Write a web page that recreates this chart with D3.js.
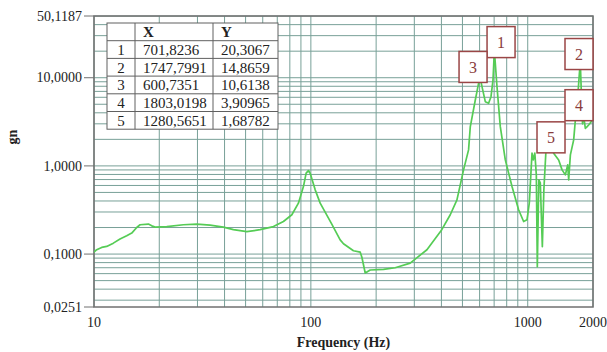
<!DOCTYPE html>
<html>
<head>
<meta charset="utf-8">
<script src="https://cdn.jsdelivr.net/npm/d3@7"></script>
<style>
  body { margin: 0; background: #fff; }
  svg { display: block; }
  text { font-family: "Liberation Serif", "Times New Roman", serif; }
</style>
</head>
<body>
<div id="chart"></div>
<script>
// response curve (Hz, gn)
var freq = [10, 10.29, 10.85, 11.44, 12.28, 13.18, 14.15, 14.93, 15.74, 16.31,
  17.81, 18.47, 19.12, 21.65, 25.83, 29.78, 34.3, 39.52, 43.94, 50.67,
  58.34, 67.21, 74.74, 81.72, 87.63, 92.42, 95.12, 97.48, 99.26, 104.7,
  110.4, 124.7, 136.5, 141.4, 157.2, 168.9, 171.9, 178.1, 187.8, 216.3,
  244.9, 287.2, 343, 401.5, 439.4, 471.7, 506, 533.6, 543.3, 573.2,
  593.5, 600.7, 615.4, 637.3, 660.1, 677.1, 691.7, 701.8, 721.7, 747.5,
  788.2, 846.4, 907.8, 957.4, 992.7, 1017, 1046.6, 1061, 1078.4, 1095.7,
  1107.3, 1125, 1143, 1168, 1187, 1212, 1280.6, 1317, 1389, 1440,
  1491.5, 1528.7, 1545, 1573, 1629, 1658.6, 1700, 1730, 1747.8, 1770,
  1790, 1803, 1825, 1844, 1870, 1910, 1950, 1980, 2000];
var accel = [0.105, 0.112, 0.119, 0.122, 0.133, 0.148, 0.161, 0.173, 0.200, 0.215,
  0.219, 0.209, 0.202, 0.205, 0.215, 0.219, 0.213, 0.202, 0.189, 0.180,
  0.189, 0.205, 0.234, 0.279, 0.378, 0.583, 0.827, 0.885, 0.827, 0.535,
  0.378, 0.220, 0.145, 0.131, 0.109, 0.105, 0.092, 0.061, 0.066, 0.067,
  0.070, 0.079, 0.112, 0.189, 0.279, 0.412, 0.901, 1.518, 2.765, 5.59,
  8.64, 10.61, 7.91, 5.35, 5.13, 6.09, 9.42, 20.31, 7.91, 2.787,
  1.169, 0.583, 0.318, 0.234, 0.245, 0.381, 1.393, 1.169, 1.40, 0.791,
  0.072, 0.694, 0.642, 0.121, 0.535, 1.40, 1.688, 1.393, 1.169, 0.901,
  0.791, 1.026, 0.694, 1.332, 1.97, 3.32, 6.0, 11.0, 14.87, 6.0,
  3.0, 3.91, 3.2, 2.67, 2.75, 2.91, 3.1, 3.32, 3.45];

// peak table
var peakId = [1, 2, 3, 4, 5];
var peakX = [701.8236, 1747.7991, 600.7351, 1803.0198, 1280.5651];
var peakY = [20.3067, 14.8659, 10.6138, 3.90965, 1.68782];

var xTicks = [10, 100, 1000, 2000];
var yTicks = [0.0251, 0.1, 1, 10, 50.1187];

var W = 607, H = 352;
var margin = {top: 16, right: 14, bottom: 45, left: 94};
var width = W - margin.left - margin.right;
var height = H - margin.top - margin.bottom;

var svg = d3.select("#chart").append("svg")
    .attr("width", W)
    .attr("height", H);
var g = svg.append("g")
    .attr("transform", "translate(" + margin.left + "," + margin.top + ")");

var x = d3.scaleLog().domain([10, 2000]).range([0, width]);
var y = d3.scaleLog().domain([0.0251, 50.1187]).range([height, 0]);

var comma = function(s) { return s.replace(".", ","); };

// grid (all 1..9 multiples per decade)
var gridCol = "#78a098";
g.selectAll(".vgrid").data(x.ticks()).enter().append("line")
    .attr("x1", d => x(d)).attr("x2", d => x(d))
    .attr("y1", 0).attr("y2", height)
    .attr("stroke", gridCol).attr("stroke-width", 1);
g.selectAll(".hgrid").data(y.ticks()).enter().append("line")
    .attr("x1", 0).attr("x2", width)
    .attr("y1", d => y(d)).attr("y2", d => y(d))
    .attr("stroke", gridCol).attr("stroke-width", 1);

// frame
g.append("rect")
    .attr("width", width).attr("height", height)
    .attr("fill", "none").attr("stroke", "#707070").attr("stroke-width", 1.5);

// curve
g.append("clipPath").attr("id", "clip")
  .append("rect").attr("width", width).attr("height", height);

var pts = freq.map((f, i) => [f, accel[i]]);
var line = d3.line().x(d => x(d[0])).y(d => y(d[1]));
g.append("path")
    .datum(pts)
    .attr("clip-path", "url(#clip)")
    .attr("d", line)
    .attr("fill", "none")
    .attr("stroke", "#55cc55")
    .attr("stroke-width", 1.7)
    .attr("stroke-linejoin", "round");

// y ticks + labels
g.selectAll(".ytick").data(yTicks).enter().append("line")
    .attr("x1", -10).attr("x2", 0)
    .attr("y1", d => y(d)).attr("y2", d => y(d))
    .attr("stroke", "#707070");
g.selectAll(".ylab").data(yTicks).enter().append("text")
    .attr("x", -12).attr("y", d => y(d))
    .attr("dy", "0.33em")
    .attr("text-anchor", "end")
    .style("font-size", "14px")
    .attr("fill", "#222")
    .text(d => comma(d.toFixed(4)));

// x labels
g.selectAll(".xlab").data(xTicks).enter().append("text")
    .attr("x", d => x(d)).attr("y", height + 20)
    .attr("text-anchor", "middle")
    .style("font-size", "14px")
    .attr("fill", "#222")
    .text(d => d);

// axis titles
svg.append("text")
    .attr("x", margin.left + width / 2).attr("y", 347)
    .attr("text-anchor", "middle")
    .style("font-size", "14px").style("font-weight", "bold")
    .attr("fill", "#222")
    .text("Frequency (Hz)");
svg.append("text")
    .attr("transform", "translate(17,137) rotate(-90)")
    .attr("text-anchor", "middle")
    .style("font-size", "14px").style("font-weight", "bold")
    .attr("fill", "#222")
    .text("gn");

// data table in the top-left corner
var colX = [13, 41, 119, 184];
var tTop = 7, rowH = 17.7;
var rows = [["", "X", "Y"]].concat(peakId.map((id, i) =>
    [String(id), comma(peakX[i].toFixed(4)), comma(String(d3.format(".6")(peakY[i])))]));
var tbl = g.append("g");
tbl.append("rect")
    .attr("x", colX[0]).attr("y", tTop)
    .attr("width", colX[3] - colX[0]).attr("height", rowH * rows.length)
    .attr("fill", "#fff").attr("stroke", "#606060");
for (var r = 1; r < rows.length; r++) {
  tbl.append("line")
      .attr("x1", colX[0]).attr("x2", colX[3])
      .attr("y1", tTop + r * rowH).attr("y2", tTop + r * rowH)
      .attr("stroke", "#606060");
}
[1, 2].forEach(function(c) {
  tbl.append("line")
      .attr("x1", colX[c]).attr("x2", colX[c])
      .attr("y1", tTop).attr("y2", tTop + rowH * rows.length)
      .attr("stroke", "#606060");
});
rows.forEach(function(row, r) {
  row.forEach(function(cell, c) {
    tbl.append("text")
        .attr("x", c === 0 ? (colX[0] + colX[1]) / 2 : colX[c] + 8)
        .attr("y", tTop + r * rowH + rowH / 2)
        .attr("dy", "0.35em")
        .attr("text-anchor", c === 0 ? "middle" : "start")
        .style("font-size", "15px")
        .style("font-weight", r === 0 ? "bold" : "normal")
        .attr("fill", "#222")
        .text(cell);
  });
});

// peak markers: boxes sitting just above each peak point
var bw = 28, bh = 31;
var boxes = peakId.map(function(id, i) {
  var px = x(peakX[i]), py = y(peakY[i]);
  return {id: id, x: Math.min(px - bw / 2, width - bw), y: py + 7 - bh};
});
for (var it = 0; it < 5; it++) {
  for (var a = 0; a < boxes.length; a++) {
    for (var b = a + 1; b < boxes.length; b++) {
      var A = boxes[a], B = boxes[b];
      var ox = Math.min(A.x, B.x) + bw - Math.max(A.x, B.x);
      var oy = Math.min(A.y, B.y) + bh - Math.max(A.y, B.y);
      if (ox > 0.5 && oy > 0.5) {
        var L = A.x <= B.x ? A : B, R = L === A ? B : A;
        L.x -= ox / 2; R.x += ox / 2;
        if (R.x > width - bw) { L.x -= R.x - (width - bw); R.x = width - bw; }
      }
    }
  }
}
var mk = g.selectAll(".marker").data(boxes).enter().append("g")
    .attr("transform", d => "translate(" + d.x + "," + d.y + ")");
mk.append("rect")
    .attr("width", bw).attr("height", bh)
    .attr("fill", "#fff")
    .attr("stroke", "#9a4646").attr("stroke-width", 1.5);
mk.append("text")
    .attr("x", bw / 2).attr("y", bh / 2)
    .attr("dy", "0.35em")
    .attr("text-anchor", "middle")
    .style("font-size", "16px")
    .attr("fill", "#8a3c3c")
    .text(d => d.id);
</script>
</body>
</html>
